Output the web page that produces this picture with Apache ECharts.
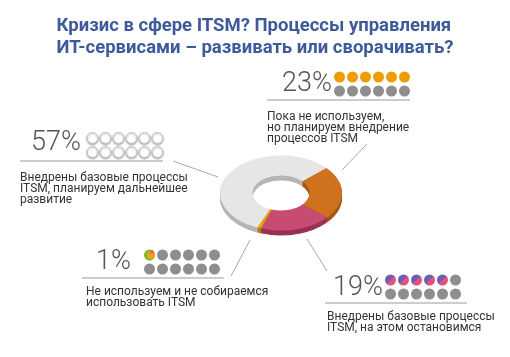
<!DOCTYPE html>
<html><head><meta charset="utf-8">
<script src="https://cdn.jsdelivr.net/npm/echarts@6/dist/echarts.min.js"></script>
<style>
html,body{margin:0;padding:0;background:#fff;}
#wrap{position:relative;width:510px;height:357px;overflow:hidden;}
#pie{position:absolute;left:0;top:0;width:510px;height:357px;transform-origin:281px 193px;transform:scaleY(0.615);}
#over{position:absolute;left:0;top:0;width:510px;height:357px;}
</style></head><body>
<div id="wrap"><div id="pie"></div><div id="over"></div></div>
<script>
// ---- data ----
const titleText = 'Кризис в сфере ITSM? Процессы управления\nИТ-сервисами – развивать или сворачивать?';
const categories = [
  'Пока не используем,\nно планируем внедрение\nпроцессов ITSM',
  'Внедрены базовые процессы\nITSM, на этом остановимся',
  'Не используем и не собираемся\nиспользовать ITSM',
  'Внедрены базовые процессы\nITSM, планируем дальнейшее\nразвитие'
];
const values = [23, 19, 1, 57];
const percentLabels = ['23%', '19%', '1%', '57%'];
const filledDots = [6, 5, 1, 12];

// ---- styles / layout ----
const topColors = ['#d0711e', '#c84b72', '#e2a400', '#e6e6e6'];
const sideColors = ['#a4561a', '#963253', '#b07f00', '#b5b5b5'];
const dotKinds = ['orange', 'stripe', 'special', 'white'];
const layout = [
  {pctX:282, pctY:84,  dotX:334, ul:[267,410,100], descX:267, descY:117, leader:[367,144,342,170]},
  {pctX:333, pctY:288, dotX:385, ul:[325,467,303], descX:327, descY:317, leader:[307,239,327,271]},
  {pctX:96,  pctY:262, dotX:144, ul:[82,224,278],  descX:86,  descY:292, leader:[231,276,250,240]},
  {pctX:31,  pctY:143.5, dotX:87, ul:[20,163,161], descX:20,  descY:178, leader:[173,161,218,177]}
];

// ---- pie (3D-looking elliptical donut) ----
const pieChart = echarts.init(document.getElementById('pie'), null, {renderer:'canvas'});
const CX = 281, CY = 193, THICK = 8, START = 42;
const pieSeries = [];
function pieData(colors){
  return values.map((v,i)=>({name:categories[i], value:v, itemStyle:{color:colors[i]}}));
}
for (let k = THICK; k >= 1; k--) {
  pieSeries.push({type:'pie', center:[CX, CY + k], radius:[28.5, 61], startAngle:START,
    clockwise:true, silent:true, label:{show:false}, labelLine:{show:false}, z:1,
    itemStyle:{borderWidth:0}, data:pieData(sideColors)});
}
pieSeries.push({type:'pie', center:[CX, CY], radius:[28.5, 61], startAngle:START,
  clockwise:true, silent:true, label:{show:false}, labelLine:{show:false}, z:2,
  itemStyle:{borderWidth:0}, data:pieData(topColors)});
pieChart.setOption({animation:false, series:pieSeries});

// ---- overlay: title, labels, dots, leader lines ----
const over = echarts.init(document.getElementById('over'), null, {renderer:'canvas'});
const graphics = [];
const R = 5.5, STEP = 13;
function dotStyle(kind, filled){
  if (kind === 'white') return {fill:'#ffffff', stroke:'#c4c4c4', lineWidth:1, shadowBlur:2, shadowColor:'rgba(0,0,0,0.35)', shadowOffsetY:1};
  if (!filled) return {fill:'#8e8e8e'};
  if (kind === 'orange') return {fill:'#ef9c00'};
  if (kind === 'stripe') return {fill:new echarts.graphic.LinearGradient(0,0,1,1,[
      {offset:0,color:'#6a5fb3'},{offset:0.5,color:'#6a5fb3'},{offset:0.5,color:'#e2507e'},{offset:1,color:'#e2507e'}])};
  return {fill:'#7cb82a'};
}
layout.forEach((L, i) => {
  graphics.push({type:'text', x:L.pctX, y:L.pctY, style:{text:percentLabels[i], font:'300 27px Roboto', fill:'#555', align:'left', verticalAlign:'middle'}});
  graphics.push({type:'rect', shape:{x:L.ul[0], y:L.ul[2]-1, width:L.ul[1]-L.ul[0], height:2}, style:{fill:'#cccccc'}});
  graphics.push({type:'text', x:L.descX, y:L.descY-5.5, style:{text:categories[i], font:'12px Roboto', lineHeight:11, fill:'#333', align:'left', verticalAlign:'top'}});
  graphics.push({type:'line', shape:{x1:L.leader[0], y1:L.leader[1], x2:L.leader[2], y2:L.leader[3]}, style:{stroke:'#a8a8a8', lineWidth:1}});
  for (let r = 0; r < 2; r++) {
    for (let c = 0; c < 6; c++) {
      const idx = r*6 + c;
      const cx = L.dotX + R + c*STEP, cy = L.ul[2] - 23 + r*14;
      const filled = idx < filledDots[i];
      graphics.push({type:'circle', shape:{cx, cy, r:R}, style:dotStyle(dotKinds[i], filled)});
      if (dotKinds[i] === 'special' && filled) {
        graphics.push({type:'circle', shape:{cx:cx+1.3, cy:cy, r:R-1.4}, style:{fill:'#f0a020'}});
        graphics.push({type:'circle', shape:{cx:cx+2.5, cy:cy-3.2, r:1.6}, style:{fill:'#e2507e'}});
      }
    }
  }
});
over.setOption({
  animation:false,
  title:{text:titleText, left:'center', top:10, textAlign:'left',
    textStyle:{fontFamily:'Roboto', fontSize:18.5, fontWeight:'bold', color:'#3d5a9a', lineHeight:22, align:'center'}},
  graphic:graphics
});
</script></body></html>
